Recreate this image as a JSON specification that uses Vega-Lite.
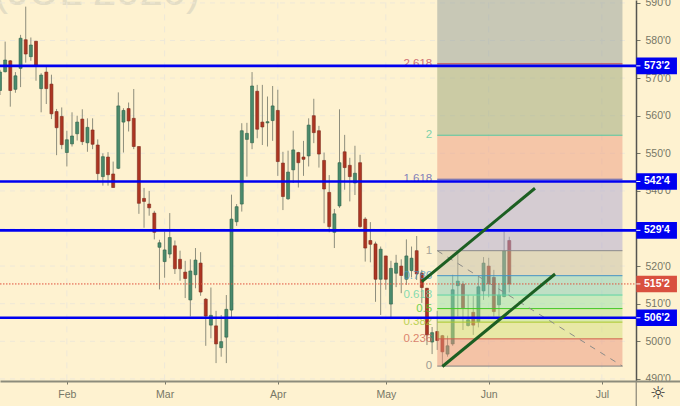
{
"$schema":"https://vega.github.io/schema/vega-lite/v6.json",
"width":680,"height":406,"padding":0,
"autosize":{"type":"none","contains":"padding"},
"background":"#fef2d0",
"config":{"view":{"stroke":null},"font":"Liberation Sans","scale":{"continuousPadding":0}},
"datasets":{
"gridY":[{"value":490},{"value":500},{"value":510},{"value":520},{"value":530},{"value":540},{"value":550},{"value":560},{"value":570},{"value":580},{"value":590}],
"gridX":[{"session":13},{"session":32},{"session":54},{"session":75},{"session":95},{"session":117}],
"candles":[
{"session":0,"high":572.2,"low":565.5,"open":566.7,"close":571.6},
{"session":1,"high":579.7,"low":571.5,"open":571.7,"close":574.8},
{"session":2,"high":574.8,"low":562.4,"open":574.6,"close":566.7},
{"session":3,"high":571.6,"low":566.1,"open":567.0,"close":570.6},
{"session":4,"high":581.5,"low":567.6,"open":572.6,"close":580.6},
{"session":5,"high":589.0,"low":574.1,"open":580.2,"close":576.4},
{"session":6,"high":580.8,"low":574.6,"open":575.7,"close":578.8},
{"session":7,"high":579.9,"low":569.3,"open":579.8,"close":573.5},
{"session":8,"high":571.3,"low":560.9,"open":567.2,"close":570.8},
{"session":9,"high":573.1,"low":563.1,"open":571.6,"close":567.2},
{"session":10,"high":570.9,"low":559.1,"open":568.4,"close":560.5},
{"session":11,"high":561.8,"low":549.5,"open":561.1,"close":556.8},
{"session":12,"high":562.2,"low":551.1,"open":559.8,"close":552.3},
{"session":13,"high":556.0,"low":546.5,"open":550.2,"close":553.6},
{"session":14,"high":560.9,"low":551.8,"open":552.5,"close":554.6},
{"session":15,"high":560.0,"low":553.4,"open":555.2,"close":558.3},
{"session":16,"high":561.7,"low":552.2,"open":559.1,"close":553.1},
{"session":17,"high":559.3,"low":550.4,"open":552.8,"close":556.9},
{"session":18,"high":559.3,"low":551.1,"open":556.2,"close":552.4},
{"session":19,"high":553.7,"low":542.5,"open":552.2,"close":544.6},
{"session":20,"high":550.0,"low":541.4,"open":543.8,"close":549.1},
{"session":21,"high":550.3,"low":541.4,"open":549.0,"close":544.3},
{"session":22,"high":547.8,"low":540.9,"open":544.5,"close":540.9},
{"session":23,"high":566.2,"low":545.8,"open":546.0,"close":562.6},
{"session":24,"high":562.0,"low":550.2,"open":558.3,"close":561.4},
{"session":25,"high":563.5,"low":555.8,"open":561.9,"close":558.6},
{"session":26,"high":567.1,"low":551.1,"open":559.3,"close":551.8},
{"session":27,"high":551.8,"low":533.9,"open":551.8,"close":536.7},
{"session":28,"high":540.8,"low":530.2,"open":538.0,"close":537.2},
{"session":29,"high":540.0,"low":533.4,"open":536.5,"close":535.5},
{"session":30,"high":534.7,"low":527.1,"open":534.1,"close":529.0},
{"session":31,"high":527.0,"low":513.8,"open":525.0,"close":526.2},
{"session":32,"high":529.2,"low":516.9,"open":521.2,"close":524.3},
{"session":33,"high":534.1,"low":522.1,"open":523.2,"close":527.6},
{"session":34,"high":526.8,"low":517.9,"open":525.4,"close":519.3},
{"session":35,"high":524.1,"low":516.1,"open":521.8,"close":519.3},
{"session":36,"high":521.4,"low":511.5,"open":518.4,"close":516.7},
{"session":37,"high":521.8,"low":506.6,"open":511.0,"close":518.7},
{"session":38,"high":524.8,"low":514.1,"open":517.7,"close":521.6},
{"session":39,"high":523.7,"low":512.1,"open":520.8,"close":513.1},
{"session":40,"high":511.5,"low":498.8,"open":511.2,"close":506.7},
{"session":41,"high":514.3,"low":500.8,"open":504.3,"close":506.9},
{"session":42,"high":508.1,"low":494.2,"open":504.1,"close":499.3},
{"session":43,"high":507.0,"low":495.9,"open":498.3,"close":499.9},
{"session":44,"high":512.3,"low":494.2,"open":501.1,"close":508.5},
{"session":45,"high":539.0,"low":506.2,"open":508.3,"close":532.5},
{"session":46,"high":536.5,"low":530.7,"open":531.8,"close":535.8},
{"session":47,"high":558.0,"low":534.5,"open":536.5,"close":556.0},
{"session":48,"high":558.1,"low":543.8,"open":553.7,"close":555.3},
{"session":49,"high":571.6,"low":551.1,"open":552.8,"close":567.9},
{"session":50,"high":568.2,"low":554.0,"open":566.5,"close":556.4},
{"session":51,"high":568.2,"low":552.2,"open":558.3,"close":557.0},
{"session":52,"high":565.1,"low":551.8,"open":558.1,"close":558.4},
{"session":53,"high":567.9,"low":553.3,"open":558.7,"close":562.6},
{"session":54,"high":566.9,"low":544.0,"open":561.4,"close":547.8},
{"session":55,"high":550.4,"low":534.9,"open":547.4,"close":538.5},
{"session":56,"high":550.7,"low":537.6,"open":537.9,"close":545.0},
{"session":57,"high":556.0,"low":542.1,"open":545.6,"close":550.9},
{"session":58,"high":550.4,"low":540.9,"open":550.2,"close":547.5},
{"session":59,"high":553.3,"low":544.0,"open":549.0,"close":548.4},
{"session":60,"high":559.3,"low":546.5,"open":549.3,"close":557.5},
{"session":61,"high":564.5,"low":552.7,"open":560.0,"close":555.5},
{"session":62,"high":557.3,"low":546.2,"open":556.0,"close":549.8},
{"session":63,"high":550.2,"low":531.4,"open":548.1,"close":540.5},
{"session":64,"high":544.2,"low":529.0,"open":539.6,"close":530.5},
{"session":65,"high":535.2,"low":524.8,"open":529.0,"close":533.9},
{"session":66,"high":561.7,"low":535.5,"open":536.0,"close":547.5},
{"session":67,"high":554.9,"low":540.3,"open":550.4,"close":546.2},
{"session":68,"high":548.8,"low":537.2,"open":546.8,"close":543.8},
{"session":69,"high":552.0,"low":538.9,"open":542.1,"close":544.7},
{"session":70,"high":549.6,"low":530.2,"open":547.5,"close":530.5},
{"session":71,"high":533.0,"low":521.2,"open":532.5,"close":524.8},
{"session":72,"high":531.7,"low":521.0,"open":526.8,"close":525.8},
{"session":73,"high":526.5,"low":510.5,"open":525.9,"close":516.5},
{"session":74,"high":525.2,"low":507.0,"open":516.5,"close":524.5},
{"session":75,"high":522.7,"low":513.7,"open":522.7,"close":516.5},
{"session":76,"high":521.4,"low":505.9,"open":509.9,"close":519.4},
{"session":77,"high":523.0,"low":514.4,"open":518.1,"close":520.8},
{"session":78,"high":521.8,"low":512.8,"open":520.0,"close":517.5},
{"session":79,"high":527.1,"low":515.0,"open":516.5,"close":522.7},
{"session":80,"high":525.2,"low":517.0,"open":518.8,"close":522.1},
{"session":81,"high":528.0,"low":516.3,"open":524.1,"close":517.9},
{"session":82,"high":519.0,"low":510.2,"open":518.1,"close":514.3},
{"session":83,"high":514.2,"low":499.0,"open":514.1,"close":501.7},
{"session":84,"high":503.8,"low":496.6,"open":499.8,"close":502.3},
{"session":85,"high":508.1,"low":497.7,"open":502.6,"close":500.2},
{"session":86,"high":501.7,"low":493.3,"open":501.5,"close":497.2},
{"session":87,"high":501.5,"low":495.9,"open":496.6,"close":498.8},
{"session":88,"high":517.7,"low":498.8,"open":499.3,"close":513.7},
{"session":89,"high":523.4,"low":506.6,"open":514.8,"close":516.0},
{"session":90,"high":516.0,"low":503.0,"open":515.2,"close":508.9},
{"session":91,"high":512.3,"low":503.9,"open":504.2,"close":505.7},
{"session":92,"high":512.1,"low":501.7,"open":507.7,"close":504.3},
{"session":93,"high":517.2,"low":503.7,"open":505.2,"close":514.5},
{"session":94,"high":522.4,"low":511.0,"open":513.4,"close":520.8},
{"session":95,"high":522.2,"low":511.7,"open":520.0,"close":515.3},
{"session":96,"high":519.0,"low":506.6,"open":517.0,"close":507.9},
{"session":97,"high":515.4,"low":506.6,"open":509.7,"close":512.3},
{"session":98,"high":529.2,"low":511.7,"open":511.9,"close":524.0},
{"session":99,"high":527.8,"low":513.0,"open":526.8,"close":515.25}
],
"zones":[
{"zone":"a","bottom":493.4,"top":500.65,"start":85,"end":121},
{"zone":"b","bottom":500.65,"top":505.1,"start":85,"end":121},
{"zone":"c","bottom":505.1,"top":508.7,"start":85,"end":121},
{"zone":"d","bottom":508.7,"top":512.3,"start":85,"end":121},
{"zone":"e","bottom":512.3,"top":517.45,"start":85,"end":121},
{"zone":"f","bottom":517.45,"top":524.1,"start":85,"end":121},
{"zone":"g","bottom":524.1,"top":543.1,"start":85,"end":121},
{"zone":"h","bottom":543.1,"top":554.8,"start":85,"end":121},
{"zone":"i","bottom":554.8,"top":573.8,"start":85,"end":121},
{"zone":"j","bottom":573.8,"top":590.77,"start":85,"end":121}
],
"levels":[
{"level":"0","price":493.4,"start":85,"end":121},
{"level":"0.236","price":500.65,"start":85,"end":121},
{"level":"0.382","price":505.1,"start":85,"end":121},
{"level":"0.5","price":508.7,"start":85,"end":121},
{"level":"0.618","price":512.3,"start":85,"end":121},
{"level":"0.786","price":517.45,"start":85,"end":121},
{"level":"1","price":524.1,"start":85,"end":121},
{"level":"1.618","price":543.1,"start":85,"end":121},
{"level":"2","price":554.8,"start":85,"end":121},
{"level":"2.618","price":573.8,"start":85,"end":121}
],
"diagonal":[{"session":85,"price":524.1},{"session":121,"price":493.4}],
"upperTrend":[{"session":82,"price":515.85},{"session":104,"price":540.7}],
"lowerTrend":[{"session":86,"price":493.3},{"session":107.9,"price":517.9}],
"tags":[
{"label":"573'2","price":573.25,"top":575.45,"bottom":571.05,"kind":"level"},
{"label":"542'4","price":542.5,"top":544.7,"bottom":540.3,"kind":"level"},
{"label":"529'4","price":529.5,"top":531.7,"bottom":527.3,"kind":"level"},
{"label":"515'2","price":515.25,"top":517.45,"bottom":513.05,"kind":"last"},
{"label":"506'2","price":506.25,"top":508.45,"bottom":504.05,"kind":"level"}
]
},
"layer":[
{"data":{"values":[{"title":"(JUL 2020)","session":38.9,"price":589.4}]},
 "mark":{"type":"text","align":"right","baseline":"alphabetic","fontSize":42,"color":"#e4ddc4","font":"Liberation Sans"},
 "encoding":{"text":{"field":"title"},
 "x":{"field":"session","type":"quantitative","scale":{"domain":[0,132.19],"nice":false,"zero":false},"title":null,
   "axis":{"orient":"bottom","offset":-25,"values":[13,32,54,75,95,117],"labelExpr":"{'13':'Feb','32':'Mar','54':'Apr','75':'May','95':'Jun','117':'Jul'}[datum.value]","grid":false,"domainColor":"#8c8c7c","domainWidth":2,"tickColor":"#777766","tickSize":3,"labelColor":"#777766","labelFontSize":10.5,"labelPadding":5,"zindex":1,"labelFlush":false,"labelOverlap":false}},
 "y":{"field":"price","type":"quantitative","scale":{"domain":[482.79,590.77],"nice":false,"zero":false},"title":null,
   "axis":{"orient":"right","offset":-44,"values":[490,500,510,520,530,540,550,560,570,580,590],"labelExpr":"format(datum.value,'d')+\"'0\"","grid":false,"domainColor":"#555550","domainWidth":1.5,"tickColor":"#777766","tickSize":4,"labelColor":"#777766","labelFontSize":10.5,"labelPadding":5,"zindex":0,"labelFlush":false,"labelOverlap":false}}}},
{"data":{"name":"gridY"},"mark":{"type":"rule","color":"#eee8d8","strokeWidth":1,"strokeDash":[5,5]},
 "encoding":{"x":{"datum":0,"type":"quantitative","scale":{"domain":[0,132.19],"nice":false,"zero":false},"title":null},"x2":{"datum":122.5},
 "y":{"field":"value","type":"quantitative","scale":{"domain":[482.79,590.77],"nice":false,"zero":false},"title":null}}},
{"data":{"name":"gridX"},"mark":{"type":"rule","color":"#eee8d8","strokeWidth":1,"strokeDash":[6,6]},
 "encoding":{"x":{"field":"session","type":"quantitative","scale":{"domain":[0,132.19],"nice":false,"zero":false},"title":null},
 "y":{"datum":489.6,"type":"quantitative","scale":{"domain":[482.79,590.77],"nice":false,"zero":false},"title":null},"y2":{"datum":590.77}}},
{"data":{"name":"candles"},"mark":{"type":"rule","color":"#8e8e7c","strokeWidth":1},
 "encoding":{"x":{"field":"session","type":"quantitative","scale":{"domain":[0,132.19],"nice":false,"zero":false},"title":null},
 "y":{"field":"low","type":"quantitative","scale":{"domain":[482.79,590.77],"nice":false,"zero":false},"title":null},"y2":{"field":"high"}}},
{"data":{"name":"candles"},"mark":{"type":"bar","size":3,"strokeWidth":0.6},
 "encoding":{"x":{"field":"session","type":"quantitative","scale":{"domain":[0,132.19],"nice":false,"zero":false,"padding":0},"title":null},
 "y":{"field":"open","type":"quantitative","scale":{"domain":[482.79,590.77],"nice":false,"zero":false},"title":null},"y2":{"field":"close"},
 "color":{"condition":{"test":"datum.close>=datum.open","value":"#4a8a6c"},"value":"#ad3522"},
 "stroke":{"condition":{"test":"datum.close>=datum.open","value":"#2f6248"},"value":"#7c2a1c"}}},
{"data":{"name":"zones"},"mark":{"type":"rect","opacity":0.5},
 "encoding":{"x":{"field":"start","type":"quantitative","scale":{"domain":[0,132.19],"nice":false,"zero":false},"title":null},"x2":{"field":"end"},
 "y":{"field":"bottom","type":"quantitative","scale":{"domain":[482.79,590.77],"nice":false,"zero":false},"title":null},"y2":{"field":"top"},
 "fill":{"field":"zone","type":"nominal","legend":null,"scale":{"domain":["a","b","c","d","e","f","g","h","i","j"],"range":["#ea947c","#d2de7c","#b4e088","#94e0a8","#80ccb8","#c4bea6","#aca6d4","#ec9a80","#98a478","#929e9c"]}}}},
{"data":{"name":"levels"},"mark":{"type":"rule","strokeWidth":1},
 "encoding":{"x":{"field":"start","type":"quantitative","scale":{"domain":[0,132.19],"nice":false,"zero":false},"title":null},"x2":{"field":"end"},
 "y":{"field":"price","type":"quantitative","scale":{"domain":[482.79,590.77],"nice":false,"zero":false},"title":null},
 "color":{"field":"level","type":"nominal","legend":null,"scale":{"domain":["0","0.236","0.382","0.5","0.618","0.786","1","1.618","2","2.618"],"range":["#808080","#d0604c","#a8c82c","#44c824","#5cd4a4","#4494c4","#8a8a8a","#5a5ab0","#54c8a0","#c04454"]}}}},
{"data":{"name":"levels"},"mark":{"type":"text","align":"right","baseline":"middle","dx":-5,"fontSize":11.5,"opacity":0.75},
 "encoding":{"x":{"field":"start","type":"quantitative","scale":{"domain":[0,132.19],"nice":false,"zero":false},"title":null},
 "y":{"field":"price","type":"quantitative","scale":{"domain":[482.79,590.77],"nice":false,"zero":false},"title":null},
 "text":{"field":"level"},
 "color":{"field":"level","type":"nominal","legend":null,"scale":{"domain":["0","0.236","0.382","0.5","0.618","0.786","1","1.618","2","2.618"],"range":["#808080","#d0604c","#a8c82c","#44c824","#5cd4a4","#4494c4","#8a8a8a","#5a5ab0","#54c8a0","#c04454"]}}}},
{"data":{"name":"diagonal"},"mark":{"type":"line","color":"#8c8c88","strokeWidth":1,"strokeDash":[6,6]},
 "encoding":{"x":{"field":"session","type":"quantitative","scale":{"domain":[0,132.19],"nice":false,"zero":false},"title":null},
 "y":{"field":"price","type":"quantitative","scale":{"domain":[482.79,590.77],"nice":false,"zero":false},"title":null}}},
{"data":{"name":"tags"},"transform":[{"filter":"datum.kind=='level'"}],"mark":{"type":"rule","color":"#0000f0","strokeWidth":2.6},
 "encoding":{"x":{"datum":0,"type":"quantitative","scale":{"domain":[0,132.19],"nice":false,"zero":false},"title":null},"x2":{"datum":123.7},
 "y":{"field":"price","type":"quantitative","scale":{"domain":[482.79,590.77],"nice":false,"zero":false},"title":null}}},
{"data":{"name":"tags"},"transform":[{"filter":"datum.kind=='last'"}],"mark":{"type":"rule","color":"#e0503c","strokeWidth":1,"strokeDash":[1.5,1.5]},
 "encoding":{"x":{"datum":0,"type":"quantitative","scale":{"domain":[0,132.19],"nice":false,"zero":false},"title":null},"x2":{"datum":123.7},
 "y":{"field":"price","type":"quantitative","scale":{"domain":[482.79,590.77],"nice":false,"zero":false},"title":null}}},
{"data":{"name":"upperTrend"},"mark":{"type":"line","color":"#1c5f22","strokeWidth":3},
 "encoding":{"x":{"field":"session","type":"quantitative","scale":{"domain":[0,132.19],"nice":false,"zero":false},"title":null},
 "y":{"field":"price","type":"quantitative","scale":{"domain":[482.79,590.77],"nice":false,"zero":false},"title":null}}},
{"data":{"name":"lowerTrend"},"mark":{"type":"line","color":"#1c5f22","strokeWidth":3},
 "encoding":{"x":{"field":"session","type":"quantitative","scale":{"domain":[0,132.19],"nice":false,"zero":false},"title":null},
 "y":{"field":"price","type":"quantitative","scale":{"domain":[482.79,590.77],"nice":false,"zero":false},"title":null}}},
{"data":{"values":[{"left":123.75,"right":132.19,"bottom":482.79,"top":489.5}]},"mark":{"type":"rect","color":"#fef2d0"},
 "encoding":{"x":{"field":"left","type":"quantitative","scale":{"domain":[0,132.19],"nice":false,"zero":false},"title":null},"x2":{"field":"right"},
 "y":{"field":"bottom","type":"quantitative","scale":{"domain":[482.79,590.77],"nice":false,"zero":false},"title":null},"y2":{"field":"top"}}},
{"data":{"name":"tags"},"mark":{"type":"rect"},
 "encoding":{"x":{"datum":123.7,"type":"quantitative","scale":{"domain":[0,132.19],"nice":false,"zero":false},"title":null},"x2":{"datum":131.6},
 "y":{"field":"bottom","type":"quantitative","scale":{"domain":[482.79,590.77],"nice":false,"zero":false},"title":null},"y2":{"field":"top"},
 "color":{"condition":{"test":"datum.kind=='last'","value":"#d9503f"},"value":"#0000f0"}}},
{"data":{"name":"tags"},"mark":{"type":"rule","color":"#ffffff","strokeWidth":1},
 "encoding":{"x":{"datum":123.7,"type":"quantitative","scale":{"domain":[0,132.19],"nice":false,"zero":false},"title":null},"x2":{"datum":124.5},
 "y":{"field":"price","type":"quantitative","scale":{"domain":[482.79,590.77],"nice":false,"zero":false},"title":null}}},
{"data":{"name":"tags"},"mark":{"type":"text","color":"#ffffff","fontWeight":"bold","fontSize":10.5,"baseline":"middle","align":"center"},
 "encoding":{"x":{"datum":127.7,"type":"quantitative","scale":{"domain":[0,132.19],"nice":false,"zero":false},"title":null},
 "y":{"field":"price","type":"quantitative","scale":{"domain":[482.79,590.77],"nice":false,"zero":false},"title":null},"text":{"field":"label"}}},
{"data":{"values":[{"icon":"☼","session":127.9,"price":486.0}]},"mark":{"type":"text","font":"DejaVu Sans","fontSize":18,"color":"#333333","baseline":"middle","align":"center"},
 "encoding":{"x":{"field":"session","type":"quantitative","scale":{"domain":[0,132.19],"nice":false,"zero":false},"title":null},
 "y":{"field":"price","type":"quantitative","scale":{"domain":[482.79,590.77],"nice":false,"zero":false},"title":null},"text":{"field":"icon"}}}
]
}
